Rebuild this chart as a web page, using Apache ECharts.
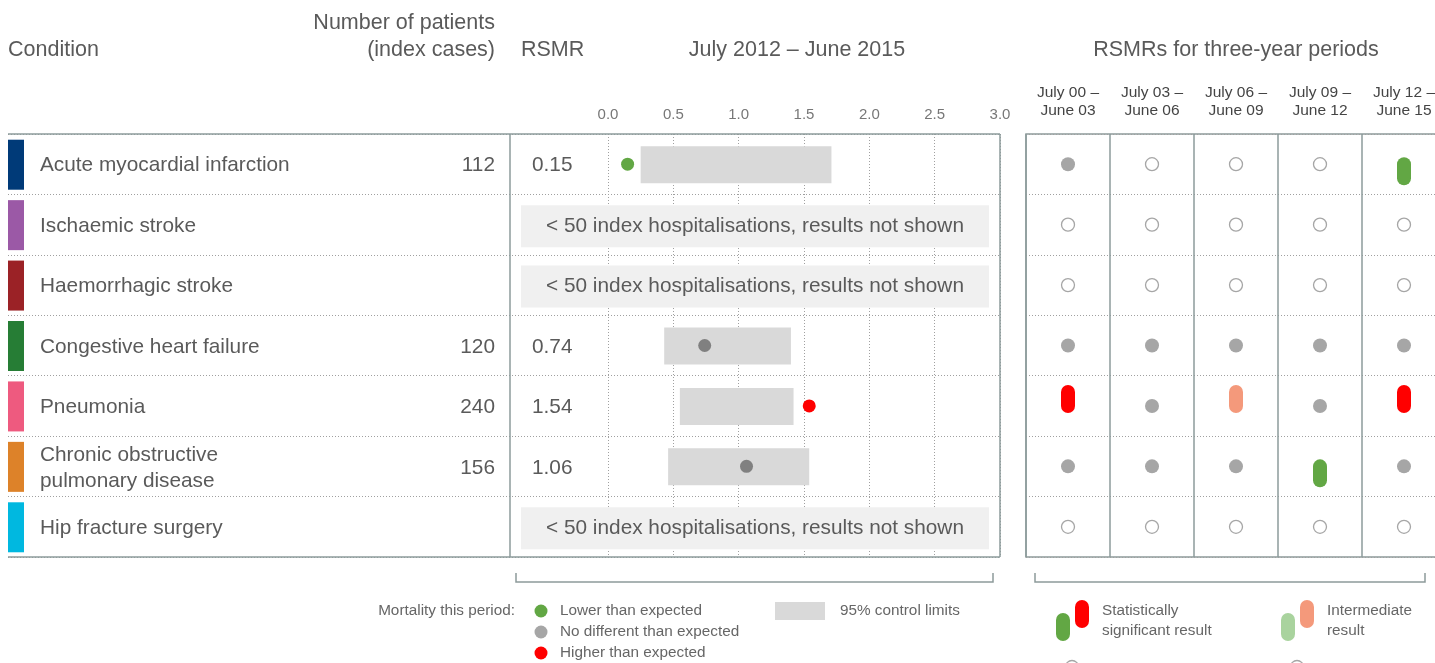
<!DOCTYPE html>
<html>
<head>
<meta charset="utf-8">
<title>RSMR summary</title>
<script src="https://cdn.jsdelivr.net/npm/echarts@6/dist/echarts.min.js"></script>
<style>
  html, body { margin: 0; padding: 0; background: #fff; }
  #chart { width: 1435px; height: 663px; }
</style>
</head>
<body>
<div id="chart"></div>
<script>
// --- data ---
const conditions = [
  'Acute myocardial infarction',
  'Ischaemic stroke',
  'Haemorrhagic stroke',
  'Congestive heart failure',
  'Pneumonia',
  'Chronic obstructive\npulmonary disease',
  'Hip fracture surgery'
];
const conditionColors = ['#003a78', '#9b59a6', '#9b2226', '#267d35', '#ee5a7f', '#dd8229', '#00b8e0'];
const patients = [112, null, null, 120, 240, 156, null];
const rsmr = [0.15, null, null, 0.74, 1.54, 1.06, null];
const lowerLimit = [0.25, null, null, 0.43, 0.55, 0.46, null];
const upperLimit = [1.71, null, null, 1.40, 1.42, 1.54, null];
const rsmrStatus = ['lower', null, null, 'same', 'higher', 'same', null];
const periods = ['July 00 –\nJune 03', 'July 03 –\nJune 06', 'July 06 –\nJune 09', 'July 09 –\nJune 12', 'July 12 –\nJune 15'];
// nr = not reported, same = no different, low/high = significant, highInt = intermediate
const periodResults = [
  ['same', 'nr', 'nr', 'nr', 'low'],
  ['nr', 'nr', 'nr', 'nr', 'nr'],
  ['nr', 'nr', 'nr', 'nr', 'nr'],
  ['same', 'same', 'same', 'same', 'same'],
  ['high', 'same', 'highInt', 'same', 'high'],
  ['same', 'same', 'same', 'low', 'same'],
  ['nr', 'nr', 'nr', 'nr', 'nr']
];
const notShownText = '< 50 index hospitalisations, results not shown';

// --- styling ---
const FONT = '"Liberation Sans", Arial, sans-serif';
const TEXT = '#5a5a5a';
const BORDER = '#8d9b9b';
const DOT_LINE = { color: '#a0a0a0', width: 1, type: [1, 2] };
const STATUS_COLORS = { lower: '#62a744', same: '#808080', higher: '#ff0000' };
const PERIOD_COLORS = { same: '#a6a6a6', low: '#62a744', high: '#ff0000', highInt: '#f4997b', lowInt: '#a9d39e' };

const TOP = 134, HEIGHT = 423;
const BODY = 20.8;

const chart = echarts.init(document.getElementById('chart'));

// left table + RSMR column, drawn row by row
function renderRow(params, api) {
  const i = params.dataIndex;
  const cy = api.coord([0, i])[1] + 1.5;
  const kids = [
    { type: 'rect', shape: { x: 8, y: cy - 26, width: 16, height: 50 }, style: { fill: conditionColors[i] } },
    { type: 'text', style: { text: conditions[i], x: 40, y: cy, verticalAlign: 'middle', fill: TEXT,
        fontSize: BODY, fontFamily: FONT, lineHeight: 26 } }
  ];
  if (patients[i] != null) {
    kids.push({ type: 'text', style: { text: String(patients[i]), x: 495, y: cy, align: 'right',
      verticalAlign: 'middle', fill: TEXT, fontSize: BODY, fontFamily: FONT } });
  }
  if (rsmr[i] != null) {
    kids.push({ type: 'text', style: { text: rsmr[i].toFixed(2), x: 532, y: cy,
      verticalAlign: 'middle', fill: TEXT, fontSize: BODY, fontFamily: FONT } });
  } else {
    kids.push({ type: 'rect', shape: { x: 521, y: cy - 21, width: 468, height: 42 }, style: { fill: '#f0f0f0' } });
    kids.push({ type: 'text', style: { text: notShownText, x: 755, y: cy, align: 'center',
      verticalAlign: 'middle', fill: TEXT, fontSize: BODY, fontFamily: FONT } });
  }
  return { type: 'group', children: kids };
}

function renderLimits(params, api) {
  const row = api.value(2);
  const p0 = api.coord([api.value(0), row]);
  const p1 = api.coord([api.value(1), row]);
  return { type: 'rect', shape: { x: p0[0], y: p0[1] - 18, width: p1[0] - p0[0], height: 37 },
    style: { fill: '#d9d9d9' } };
}

function renderPeriod(params, api) {
  const p = api.value(0), r = api.value(1);
  const pt = api.coord([p, r]);
  const code = periodResults[r][p];
  if (code === 'nr') {
    return { type: 'circle', shape: { cx: pt[0], cy: pt[1], r: 6.5 },
      style: { fill: '#fff', stroke: '#a6a6a6', lineWidth: 1.3 } };
  }
  if (code === 'same') {
    return { type: 'circle', shape: { cx: pt[0], cy: pt[1], r: 7 }, style: { fill: PERIOD_COLORS.same } };
  }
  const shift = (code === 'low' || code === 'lowInt') ? 7 : -7;
  return { type: 'rect', shape: { x: pt[0] - 7, y: pt[1] + shift - 14, width: 14, height: 28, r: 7 },
    style: { fill: PERIOD_COLORS[code] } };
}

const limitData = [];
const pointData = [];
conditions.forEach((c, i) => {
  if (lowerLimit[i] != null) limitData.push([lowerLimit[i], upperLimit[i], i]);
  if (rsmr[i] != null) pointData.push({ value: [rsmr[i], i], itemStyle: { color: STATUS_COLORS[rsmrStatus[i]] } });
});
const periodData = [];
conditions.forEach((c, r) => periods.forEach((p, k) => periodData.push([k, r])));

function txt(text, x, y, opts) {
  return { type: 'text', z: 100, style: Object.assign({ text, x, y, fill: TEXT,
    fontSize: 21.5, fontFamily: FONT, verticalAlign: 'middle' }, opts || {}) };
}
function line(points) {
  return { type: 'polyline', z: 100, shape: { points }, style: { stroke: BORDER, lineWidth: 1.5, fill: null } };
}
function pill(cx, cy, color) {
  return { type: 'rect', z: 100, shape: { x: cx - 7, y: cy - 14, width: 14, height: 28, r: 7 }, style: { fill: color } };
}
function dot(cx, cy, color) {
  return { type: 'circle', z: 100, shape: { cx, cy, r: 6.5 }, style: { fill: color } };
}
const small = { fontSize: 15.3, fill: '#666' };

const option = {
  animation: false,
  grid: [
    { left: 8, top: TOP, width: 992, height: HEIGHT, outerBoundsMode: 'none' },
    { left: 608, top: TOP, width: 392, height: HEIGHT, outerBoundsMode: 'none' },
    { left: 1026, top: TOP, width: 420, height: HEIGHT, outerBoundsMode: 'none',
      show: true, borderColor: BORDER, borderWidth: 1.5 }
  ],
  xAxis: [
    { gridIndex: 0, type: 'value', min: 0, max: 1, show: false },
    { gridIndex: 1, type: 'value', min: 0, max: 3, interval: 0.5, position: 'top',
      axisLine: { show: false }, axisTick: { show: false },
      axisLabel: { color: '#777', fontSize: 15, fontFamily: FONT, margin: 12, formatter: v => v.toFixed(1) },
      splitLine: { show: true, lineStyle: DOT_LINE } },
    { gridIndex: 2, type: 'category', data: periods, position: 'top',
      axisLine: { show: false }, axisTick: { show: false },
      axisLabel: { color: '#444', fontSize: 15.5, fontFamily: FONT, lineHeight: 18, margin: 14, interval: 0 },
      splitLine: { show: true, interval: 0, lineStyle: { color: BORDER, width: 1.5 } } }
  ],
  yAxis: [
    { gridIndex: 0, type: 'category', data: conditions, inverse: true,
      axisLine: { show: false }, axisTick: { show: false }, axisLabel: { show: false },
      splitLine: { show: true, interval: 0, lineStyle: DOT_LINE } },
    { gridIndex: 1, type: 'category', data: conditions, inverse: true,
      axisLine: { show: false }, axisTick: { show: false }, axisLabel: { show: false }, splitLine: { show: false } },
    { gridIndex: 2, type: 'category', data: conditions, inverse: true,
      axisLine: { show: false }, axisTick: { show: false }, axisLabel: { show: false },
      splitLine: { show: true, interval: 0, lineStyle: DOT_LINE } }
  ],
  series: [
    { type: 'custom', xAxisIndex: 0, yAxisIndex: 0, data: conditions.map((c, i) => [0, i]),
      renderItem: renderRow, silent: true },
    { type: 'custom', xAxisIndex: 1, yAxisIndex: 1, data: limitData, encode: { x: [0, 1], y: 2 },
      renderItem: renderLimits, silent: true },
    { type: 'scatter', xAxisIndex: 1, yAxisIndex: 1, data: pointData, symbolSize: 13, z: 5, silent: true,
      itemStyle: { opacity: 1 } },
    { type: 'custom', xAxisIndex: 2, yAxisIndex: 2, data: periodData, encode: { x: 0, y: 1 },
      renderItem: renderPeriod, silent: true }
  ],
  graphic: [
    // headers
    txt('Condition', 8, 50),
    txt('Number of patients\n(index cases)', 495, 37, { align: 'right', lineHeight: 27 }),
    txt('RSMR', 521, 50),
    txt('July 2012 – June 2015', 797, 50, { align: 'center' }),
    txt('RSMRs for three-year periods', 1236, 50, { align: 'center' }),
    // table borders
    line([[8, TOP], [1000, TOP]]),
    line([[8, TOP + HEIGHT], [1000, TOP + HEIGHT]]),
    line([[510, TOP], [510, TOP + HEIGHT]]),
    line([[1000, TOP], [1000, TOP + HEIGHT]]),
    // brackets
    line([[516, 573], [516, 582], [993, 582], [993, 573]]),
    line([[1035, 573], [1035, 582], [1425, 582], [1425, 573]]),
    // left legend
    txt('Mortality this period:', 515, 611, Object.assign({ align: 'right' }, small)),
    dot(541, 611, STATUS_COLORS.lower),
    dot(541, 632, '#a6a6a6'),
    dot(541, 653, STATUS_COLORS.higher),
    txt('Lower than expected', 560, 611, small),
    txt('No different than expected', 560, 632, small),
    txt('Higher than expected', 560, 653, small),
    { type: 'rect', z: 100, shape: { x: 775, y: 602, width: 50, height: 18 }, style: { fill: '#d9d9d9' } },
    txt('95% control limits', 840, 611, small),
    // right legend
    pill(1063, 627, PERIOD_COLORS.low),
    pill(1082, 614, PERIOD_COLORS.high),
    txt('Statistically\nsignificant result', 1102, 621, Object.assign({ lineHeight: 20 }, small)),
    pill(1288, 627, PERIOD_COLORS.lowInt),
    pill(1307, 614, PERIOD_COLORS.highInt),
    txt('Intermediate\nresult', 1327, 621, Object.assign({ lineHeight: 20 }, small)),
    { type: 'circle', z: 100, shape: { cx: 1072, cy: 667, r: 6.5 }, style: { fill: '#fff', stroke: '#a6a6a6', lineWidth: 1.3 } },
    { type: 'circle', z: 100, shape: { cx: 1297, cy: 667, r: 6.5 }, style: { fill: '#fff', stroke: '#a6a6a6', lineWidth: 1.3 } }
  ]
};

chart.setOption(option);
</script>
</body>
</html>
